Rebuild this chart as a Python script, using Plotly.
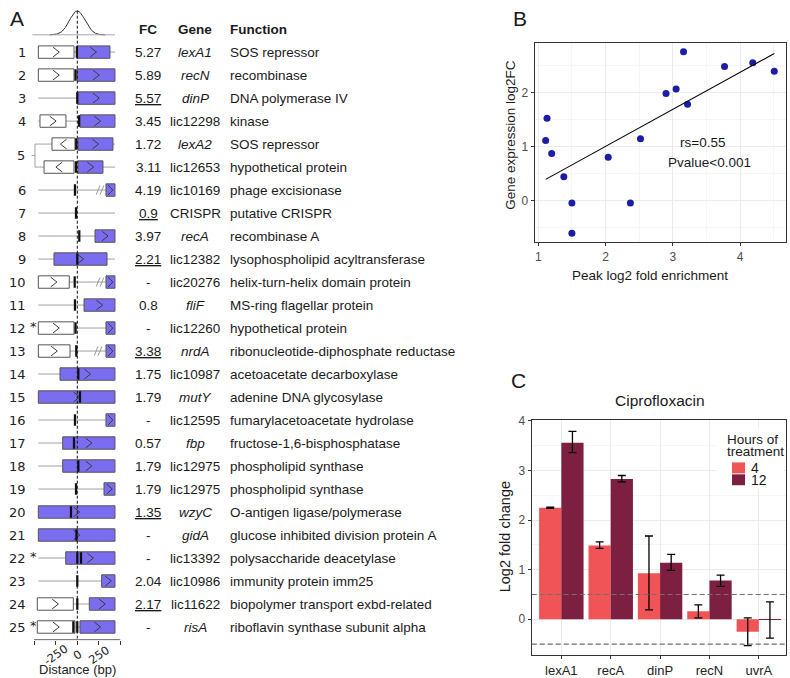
import numpy as np
import plotly.graph_objects as go

W, H = 790, 678
SANS = "Liberation Sans, Arial, Helvetica, sans-serif"
VERD = "DejaVu Sans, Verdana, sans-serif"

# ---------------- Panel A data ----------------
row_ids = ["1", "2", "3", "4", "5a", "5b", "6", "7", "8", "9", "10", "11", "12", "13",
           "14", "15", "16", "17", "18", "19", "20", "21", "22", "23", "24", "25"]
starred_rows = ["12", "22", "25"]
fc_values = ["5.27", "5.89", "5.57", "3.45", "1.72", "3.11", "4.19", "0.9", "3.97", "2.21", "-", "0.8", "-",
             "3.38", "1.75", "1.79", "-", "0.57", "1.79", "1.79", "1.35", "-", "-", "2.04", "2.17", "-"]
fc_underlined = [False, False, True, False, False, False, False, True, False, True, False, False, False,
                 True, False, False, False, False, False, False, True, False, False, False, True, False]
gene_names = ["lexA1", "recN", "dinP", "lic12298", "lexA2", "lic12653", "lic10169", "CRISPR", "recA",
              "lic12382", "lic20276", "fliF", "lic12260", "nrdA", "lic10987", "mutY", "lic12595", "fbp",
              "lic12975", "lic12975", "wzyC", "gidA", "lic13392", "lic10986", "lic11622", "risA"]
gene_functions = ["SOS repressor", "recombinase", "DNA polymerase IV", "kinase", "SOS repressor",
                  "hypothetical protein", "phage excisionase", "putative CRISPR", "recombinase A",
                  "lysophospholipid acyltransferase", "helix-turn-helix domain protein",
                  "MS-ring flagellar protein", "hypothetical protein", "ribonucleotide-diphosphate reductase",
                  "acetoacetate decarboxylase", "adenine DNA glycosylase", "fumarylacetoacetate hydrolase",
                  "fructose-1,6-bisphosphatase", "phospholipid synthase", "phospholipid synthase",
                  "O-antigen ligase/polymerase", "glucose inhibited division protein A",
                  "polysaccharide deacetylase", "immunity protein imm25", "biopolymer transport exbd-related",
                  "riboflavin synthase subunit alpha"]

# gene features, bp relative to peak summit (row index into row_ids)
box_row = [0, 0, 1, 1, 2, 3, 3, 4, 4, 5, 5, 6, 8, 9, 10, 10, 11, 12, 12, 13, 13, 14, 15, 16, 17, 18,
           19, 20, 21, 22, 23, 24, 24, 25, 25]
box_start = [-451, -7, -451, 0, 0, -432, 31, -293, 8, -385, 8, 332, 205, -270, -451, 332, 78, -451, 332,
             -451, 332, -200, -451, 332, -169, -169, 309, -451, -451, -134, 282, -463, 139, -463, 31]
box_end = [-38, 378, -38, 436, 436, -131, 436, -27, 413, -38, 297, 436, 436, 344, -93, 436, 436, -38, 436,
           -84, 436, 436, 436, 436, 436, 436, 436, 436, 436, 436, 436, -46, 436, -27, 436]
box_strand = [1, 1, 1, 1, 1, 1, 1, -1, 1, -1, 1, 1, 1, 1, 1, 1, 1, 1, 1, 1, 1, 1, 1, 1, 1, 1, 1, 1, 1, 1,
              1, 1, 1, 1, 1]
box_target = [0, 1, 0, 1, 1, 0, 1, 0, 1, 0, 1, 1, 1, 1, 0, 1, 1, 0, 1, 0, 1, 1, 1, 1, 1, 1, 1, 1, 1, 1,
              1, 0, 1, 0, 1]
peak_row = [0, 1, 2, 3, 4, 5, 6, 7, 8, 9, 10, 11, 12, 13, 14, 15, 16, 17, 18, 19, 20, 21, 22, 22, 23, 24,
            25, 25]
peak_pos = [-5, -20, 0, 20, -12, -15, -27, -15, 23, 0, -30, -27, -20, -12, 12, 31, -27, -38, 12, -15, -73,
            -10, 0, 43, 0, 0, -46, 0]
break_row = [6, 10, 13]
break_pos = [263, 263, 240]
gene_line_span = [-451, 436]
axisA_ticks = [-500, -250, 0, 250, 500]
axisA_labels = ["", "-250", "0", "250", ""]

# ---------------- Panel B data ----------------
peak_enrichment = [1.11, 1.13, 1.20, 1.38, 1.50, 1.50, 2.04, 2.37, 2.52, 2.90, 3.05, 3.16, 3.22, 3.77,
                   4.19, 4.51]
expr_log2fc = [1.12, 1.53, 0.88, 0.45, -0.04, -0.60, 0.81, -0.04, 1.15, 1.99, 2.07, 2.76, 1.79, 2.49,
               2.56, 2.40]

# ---------------- Panel C data ----------------
genes_c = ["lexA1", "recA", "dinP", "recN", "uvrA"]
h4_val = [2.25, 1.49, 0.93, 0.16, -0.25]
h4_hi = [2.26, 1.56, 1.68, 0.29, 0.03]
h4_lo = [2.24, 1.43, 0.19, 0.03, -0.53]
h12_val = [3.56, 2.83, 1.14, 0.78, -0.01]
h12_hi = [3.79, 2.90, 1.31, 0.89, 0.35]
h12_lo = [3.36, 2.77, 0.985, 0.665, -0.38]
thresholds = [0.5, -0.5]


def px_x(p):
    return p / W


def px_y(p):
    return 1 - p / H


fig = go.Figure()
shapes = []
annotations = []


def add_text(text, x, y, xref="paper", yref="paper", size=13.5, family=SANS, color="#1a1a1a",
             xanchor="center", yanchor="middle", angle=0, yshift=0):
    annotations.append(dict(text=text, x=x, y=y, xref=xref, yref=yref, showarrow=False,
                            font=dict(size=size, family=family, color=color), xanchor=xanchor,
                            yanchor=yanchor, textangle=angle, yshift=yshift))


# ---------- Panel A drawing ----------
n_rows = len(row_ids)
BOX_H = 0.27
BLUE = "#7B6DF0"
# gaussian schematic at top
g_sd, g_amp, g_base = 90, 1.04, -0.75
gx = np.linspace(-320, 320, 161)
gy = g_base - g_amp * np.exp(-gx ** 2 / (2 * g_sd ** 2))
fig.add_trace(go.Scatter(x=gx, y=gy, mode="lines", line=dict(color="#333333", width=1),
                         xaxis="x", yaxis="y", showlegend=False, hoverinfo="skip"))
shapes.append(dict(type="line", xref="x", yref="y", x0=-520, x1=gene_line_span[1], y0=g_base, y1=g_base,
                   line=dict(color="#a8a8a8", width=1)))

for r in range(n_rows):
    shapes.append(dict(type="line", xref="x", yref="y", x0=gene_line_span[0], x1=gene_line_span[1],
                       y0=r, y1=r, line=dict(color="#a0a0a0", width=1)))

for b, p in zip(break_row, break_pos):
    for off in (-22, 22):
        shapes.append(dict(type="line", xref="x", yref="y", x0=p + off - 22, x1=p + off + 22,
                           y0=b + 0.2, y1=b - 0.2, line=dict(color="#9a9a9a", width=1)))

for r, s, e, st, t in zip(box_row, box_start, box_end, box_strand, box_target):
    shapes.append(dict(type="rect", xref="x", yref="y", x0=s, x1=e, y0=r - BOX_H, y1=r + BOX_H,
                       fillcolor=BLUE if t else "white", line=dict(color="#555555", width=1)))

shapes.append(dict(type="line", xref="x", yref="y", x0=0, x1=0, y0=-1.8, y1=25.5,
                   line=dict(color="#111111", width=1, dash="3px,2px")))

for r, s, e, st, t in zip(box_row, box_start, box_end, box_strand, box_target):
    c = (s + e) / 2
    dx = min(36, (e - s) * 0.25) * st
    h = 0.21
    shapes.append(dict(type="path", xref="x", yref="y",
                       path=f"M {c - dx},{r - h} L {c + dx},{r} L {c - dx},{r + h}",
                       line=dict(color="#3a3a3a", width=1)))

for r, p in zip(peak_row, peak_pos):
    shapes.append(dict(type="rect", xref="x", yref="y", x0=p - 13, x1=p + 13, y0=r - 0.25, y1=r + 0.25,
                       fillcolor="#111111", line=dict(width=0)))

# axis line for distance axis
shapes.append(dict(type="line", xref="x", yref="y", x0=axisA_ticks[0], x1=axisA_ticks[-1], y0=25.56,
                   y1=25.56, line=dict(color="#333333", width=1)))
for v, lab in zip(axisA_ticks, axisA_labels):
    if lab:
        add_text(lab, v, px_y(655), xref="x", size=11.5, family=VERD, color="#222222", angle=-35)
add_text("Distance (bp)", 0, px_y(669), xref="x", size=13, color="#222222")

# bracket for row 5
shapes.append(dict(type="line", xref="x", yref="y", x0=-490, x1=-490, y0=4, y1=5,
                   line=dict(color="#a0a0a0", width=1)))
for rr in (4, 5):
    shapes.append(dict(type="line", xref="x", yref="y", x0=-490, x1=gene_line_span[0], y0=rr, y1=rr,
                       line=dict(color="#a0a0a0", width=1)))
shapes.append(dict(type="line", xref="x", yref="y", x0=-530, x1=-490, y0=4.5, y1=4.5,
                   line=dict(color="#a0a0a0", width=1)))

# row numbers
for i, rid in enumerate(row_ids):
    if rid in ("5a", "5b"):
        continue
    add_text(rid, px_x(28), i, yref="y", size=13, family=VERD, color="#222222", xanchor="right")
    if rid in starred_rows:
        add_text("*", px_x(33.5), i, yref="y", size=13, family=VERD, color="#222222", yshift=2)
add_text("5", px_x(27), 4.5, yref="y", size=13, family=VERD, color="#222222", xanchor="right")

# table
add_text("<b>FC</b>", px_x(148), -0.97, yref="y")
add_text("<b>Gene</b>", px_x(195), -0.97, yref="y")
add_text("<b>Function</b>", px_x(228), -0.97, yref="y", xanchor="left")
for i in range(n_rows):
    fc = fc_values[i]
    if fc_underlined[i]:
        fc = f"<u>{fc}</u>"
    add_text(fc, px_x(148), i, yref="y")
    g = gene_names[i]
    if not (g.startswith("lic") or g == "CRISPR"):
        g = f"<i>{g}</i>"
    add_text(g, px_x(195), i, yref="y")
    add_text(gene_functions[i], px_x(228), i, yref="y", xanchor="left")

# ---------- Panel B ----------
fig.add_trace(go.Scatter(x=peak_enrichment, y=expr_log2fc, mode="markers",
                         marker=dict(color="#1C1CA6", size=7), xaxis="x2", yaxis="y2",
                         showlegend=False))
slope, intercept = np.polyfit(peak_enrichment, expr_log2fc, 1)
fx = np.array([min(peak_enrichment), max(peak_enrichment)])
fig.add_trace(go.Scatter(x=fx, y=slope * fx + intercept, mode="lines", line=dict(color="black", width=1.1),
                         xaxis="x2", yaxis="y2", showlegend=False))
add_text("rs=0.55", px_x(702), px_y(138), size=13.5)
add_text("Pvalue<0.001", px_x(709), px_y(158), size=13.5)
add_text("Gene expression log2FC", px_x(511), px_y(130), size=13.5, angle=-90)
add_text("Peak log2 fold enrichment", px_x(650), px_y(272), size=13.5)

# ---------- Panel C ----------
C4, C12 = "#F05457", "#7C1F41"
fig.add_trace(go.Bar(x=genes_c, y=h4_val, name="4", marker=dict(color=C4, line=dict(width=0)),
                     error_y=dict(type="data", symmetric=False,
                                  array=[h - v for h, v in zip(h4_hi, h4_val)],
                                  arrayminus=[v - l for v, l in zip(h4_val, h4_lo)],
                                  color="black", thickness=1.3, width=4),
                     xaxis="x3", yaxis="y3", showlegend=False))
fig.add_trace(go.Bar(x=genes_c, y=h12_val, name="12", marker=dict(color=C12, line=dict(width=0)),
                     error_y=dict(type="data", symmetric=False,
                                  array=[h - v for h, v in zip(h12_hi, h12_val)],
                                  arrayminus=[v - l for v, l in zip(h12_val, h12_lo)],
                                  color="black", thickness=1.3, width=4),
                     xaxis="x3", yaxis="y3", showlegend=False))
for t in thresholds:
    shapes.append(dict(type="line", xref="x3 domain", yref="y3", x0=0, x1=1, y0=t, y1=t,
                       line=dict(color="#707070", width=1.2, dash="5px,3px")))
add_text("Ciprofloxacin", px_x(660), px_y(398), size=15.5)
add_text("Log2 fold change", px_x(505), px_y(536), size=14.5, angle=-90)

# manual legend
shapes.append(dict(type="rect", xref="paper", yref="paper", x0=px_x(716), x1=px_x(784), y0=px_y(487),
                   y1=px_y(426), fillcolor="white", line=dict(width=0), layer="above"))
add_text("Hours of", px_x(725), px_y(437), size=13.5, xanchor="left")
add_text("treatment", px_x(725), px_y(449.5), size=13.5, xanchor="left")
for k, (lab, col) in enumerate([("4", C4), ("12", C12)]):
    yc = 466 + 12 * k
    shapes.append(dict(type="rect", xref="paper", yref="paper", x0=px_x(732), x1=px_x(745),
                       y0=px_y(yc + 5.5), y1=px_y(yc - 5.5), fillcolor=col, line=dict(width=0),
                       layer="above"))
    add_text(lab, px_x(749), px_y(yc), size=14, xanchor="left")

# panel letters
add_text("A", px_x(17), px_y(13), size=21)
add_text("B", px_x(520), px_y(13), size=21)
add_text("C", px_x(518), px_y(378), size=21)

frame = dict(showline=True, mirror=True, linecolor="#333333", linewidth=1, ticks="outside", ticklen=3,
             tickcolor="#333333", tickfont=dict(size=12, color="#4d4d4d", family=SANS), zeroline=False,
             showgrid=True, gridcolor="#EBEBEB", gridwidth=1, fixedrange=True)
minor = dict(dtick=0.5, tick0=0, showgrid=True, gridcolor="#F5F5F5", gridwidth=0.7, ticks="")

fig.update_layout(
    width=W, height=H, margin=dict(l=0, r=0, t=0, b=0),
    paper_bgcolor="white", plot_bgcolor="white",
    font=dict(family=SANS, color="#1a1a1a"),
    barmode="group", bargap=0.1, bargroupgap=0,
    xaxis=dict(domain=[0, px_x(120.5)], range=[-894.7, 500], showgrid=False, zeroline=False,
               showline=False, ticks="outside", ticklen=4, tickwidth=1, tickcolor="#333333",
               tickvals=axisA_ticks, showticklabels=False, anchor="y", fixedrange=True),
    yaxis=dict(domain=[px_y(640), 1], range=[25.58, -2.004], visible=False, anchor="x", fixedrange=True),
    xaxis2=dict(domain=[px_x(534.5), px_x(786)], range=[0.944, 4.684], dtick=1, tick0=0, anchor="y2",
                minor=minor, **frame),
    yaxis2=dict(domain=[px_y(238.5), px_y(37.2)], range=[-0.767, 2.926], dtick=1, tick0=0, anchor="x2",
                minor=minor, **frame),
    xaxis3=dict(domain=[px_x(531.7), px_x(786)], range=[-0.6, 4.55], type="category", anchor="y3",
                **{**frame, "tickfont": dict(size=13, color="#222222", family=SANS)}),
    yaxis3=dict(domain=[px_y(655), px_y(417.7)], range=[-0.725, 4.02], dtick=1, tick0=0, anchor="x3",
                minor=minor, **frame),
    shapes=shapes, annotations=annotations,
)

# pin the graph to the top-left corner of the page so the 790x678 figure fills the window exactly
pin_js = ("document.documentElement.style.margin='0';document.body.style.margin='0';"
          "document.body.style.padding='0';document.body.style.overflow='hidden';"
          "var gd=document.getElementById('{plot_id}');gd.style.position='absolute';"
          "gd.style.left='0px';gd.style.top='0px';")
fig.write_html("out.html", post_script=pin_js, config={"displayModeBar": False})
